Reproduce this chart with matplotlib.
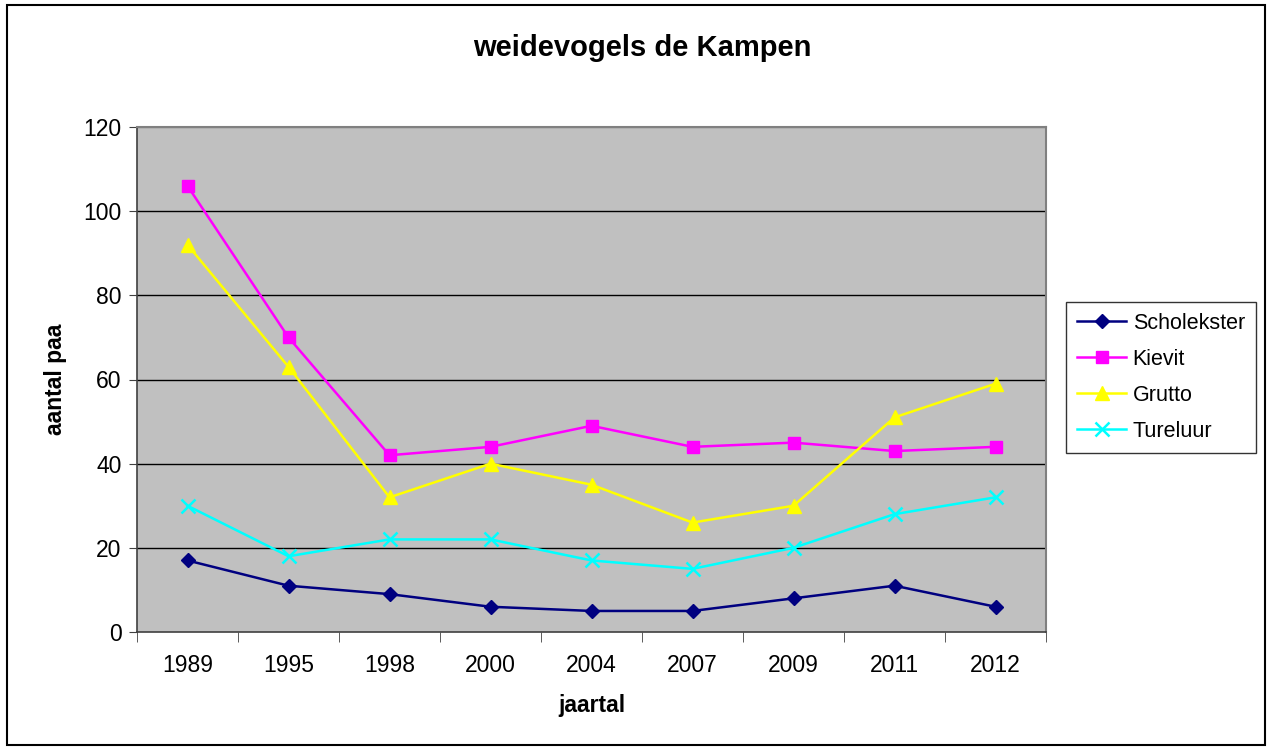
import matplotlib
matplotlib.use("Agg")
import matplotlib.pyplot as plt
from matplotlib.patches import Rectangle
import numpy as np

plt.rcParams['font.family'] = ['Liberation Sans', 'DejaVu Sans']

years = ["1989", "1995", "1998", "2000", "2004", "2007", "2009", "2011", "2012"]
scholekster = [17, 11, 9, 6, 5, 5, 8, 11, 6]
kievit = [106, 70, 42, 44, 49, 44, 45, 43, 44]
grutto = [92, 63, 32, 40, 35, 26, 30, 51, 59]
tureluur = [30, 18, 22, 22, 17, 15, 20, 28, 32]

fig = plt.figure(figsize=(12.68, 7.48), dpi=100)
fig.patch.set_facecolor('white')
fig.patches.append(Rectangle((7/1268, 3/748), 1258/1268, 740/748, transform=fig.transFigure,
                             fill=False, edgecolor='black', linewidth=1.5))

ax = fig.add_axes([137/1268, 116/748, 909/1268, 505/748])
ax.set_facecolor('#c0c0c0')
x = np.arange(len(years))

series = [
    ("Scholekster", scholekster, '#000080', 'D', 7.5),
    ("Kievit", kievit, '#ff00ff', 's', 8.5),
    ("Grutto", grutto, '#ffff00', '^', 9.5),
    ("Tureluur", tureluur, '#00ffff', 'x', 9.5),
]
for name, vals, col, mk, ms in series:
    if mk == 'x':
        ax.plot(x, vals, color=col, lw=1.8, marker=mk, ms=ms, mew=1.8, label=name, zorder=3)
    else:
        ax.plot(x, vals, color=col, lw=1.8, marker=mk, ms=ms, mec=col, mfc=col, label=name, zorder=3)

ax.set_xlim(-0.5, len(years) - 0.5)
ax.set_ylim(0, 120)
ax.set_yticks(range(0, 121, 20))
ax.set_yticklabels([str(v) for v in range(0, 121, 20)], fontsize=16.5)
ax.set_xticks(x)
ax.set_xticklabels(years, fontsize=16.5)
ax.tick_params(axis='x', which='major', length=0, pad=16)
ax.set_xticks(np.arange(-0.5, len(years)), minor=True)
ax.tick_params(axis='x', which='minor', length=7, direction='out', color='#404040')
ax.tick_params(axis='y', length=6, direction='out', color='#404040', pad=5)

for yv in range(20, 120, 20):
    ax.axhline(yv, color='black', lw=1, zorder=1)
ax.axhline(120, color='#808080', lw=1, zorder=1)

for s in ['top', 'right']:
    ax.spines[s].set_color('#808080')
    ax.spines[s].set_linewidth(1.5)
for s in ['left', 'bottom']:
    ax.spines[s].set_color('#404040')
    ax.spines[s].set_linewidth(1.2)

ax.set_xlabel("jaartal", fontsize=16.5, fontweight='bold', labelpad=12)
ax.set_ylabel("aantal paa", fontsize=16.5, fontweight='bold', labelpad=12)
fig.text(642/1268, 1 - 48/748, "weidevogels de Kampen", ha='center', va='center',
         fontsize=21, fontweight='bold')

leg = ax.legend(loc='upper left', bbox_to_anchor=(1066/1268, 1 - 302/748),
                bbox_transform=fig.transFigure, fontsize=15.5, frameon=True,
                fancybox=False, edgecolor='black', handlelength=2.3,
                labelspacing=0.7, borderpad=0.5, handletextpad=0.3, borderaxespad=0)
leg.get_frame().set_linewidth(1.0)

fig.savefig("out.png", dpi=100, facecolor='white')
